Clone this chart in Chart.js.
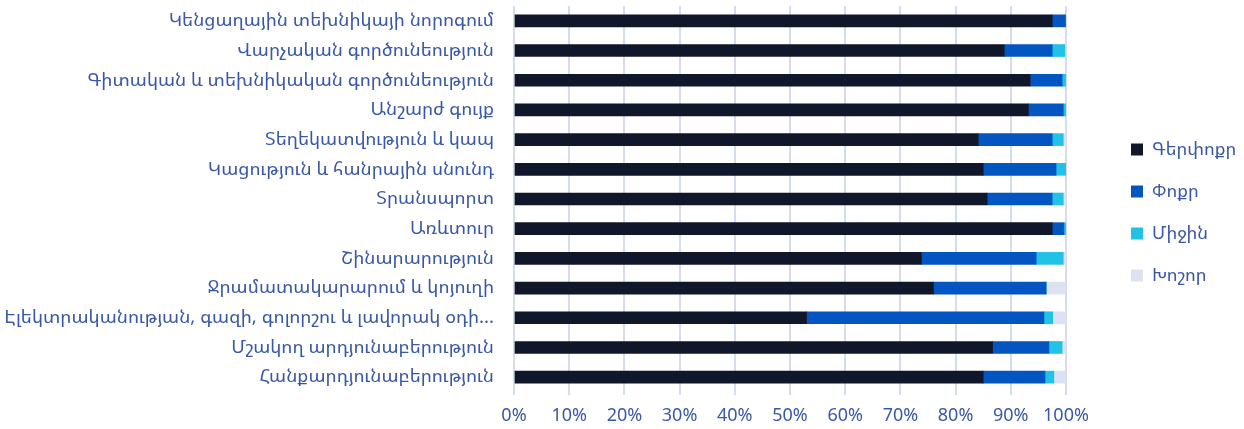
<!DOCTYPE html>
<html>
<head>
<meta charset="utf-8">
<script src="https://cdn.jsdelivr.net/npm/chart.js@4.4.1/dist/chart.umd.min.js"></script>
<style>
  html, body { margin: 0; padding: 0; background: #ffffff; }
  #wrap { width: 1244px; height: 429px; position: relative; }
</style>
</head>
<body>
<div id="wrap"><canvas id="c"></canvas></div>
<script>
const categories = [
  "Կենցաղային տեխնիկայի նորոգում",
  "Վարչական գործունեություն",
  "Գիտական և տեխնիկական գործունեություն",
  "Անշարժ գույք",
  "Տեղեկատվություն և կապ",
  "Կացություն և հանրային սնունդ",
  "Տրանսպորտ",
  "Առևտուր",
  "Շինարարություն",
  "Ջրամատակարարում և կոյուղի",
  "Էլեկտրականության, գազի, գոլորշու և լավորակ օդի...",
  "Մշակող արդյունաբերություն",
  "Հանքարդյունաբերություն"
];
const seriesNames = ["Գերփոքր", "Փոքր", "Միջին", "Խոշոր"];
const micro  = [97.5, 88.8, 93.5, 93.2, 84.1, 85.0, 85.7, 97.5, 73.8, 76.0, 53.0, 86.7, 85.0];
const small  = [2.4, 8.7, 5.8, 6.3, 13.4, 13.2, 11.8, 2.1, 20.8, 20.4, 43.0, 10.2, 11.2];
const medium = [0.1, 2.3, 0.7, 0.5, 2.0, 1.8, 2.0, 0.4, 4.9, 0.0, 1.6, 2.4, 1.6];
const large  = [0.0, 0.2, 0.0, 0.0, 0.5, 0.0, 0.5, 0.0, 0.5, 3.6, 2.4, 0.7, 2.2];
const xTicks = [0, 10, 20, 30, 40, 50, 60, 70, 80, 90, 100];

const colors = ["#10172a", "#0355c1", "#22c2e7", "#dce2f2"];
const textColor = "#3a58a5";
const fontFamily = "'Noto Sans Armenian', 'Noto Sans', 'DejaVu Sans', sans-serif";

const legendTweak = {
  id: 'legendTweak',
  beforeUpdate(chart) {
    const lg = chart.legend;
    if (lg && !lg._patched) {
      const f = lg.fit.bind(lg);
      lg.fit = function () { f(); this.width = 137; };
      const d = lg.draw.bind(lg);
      lg.draw = function () {
        const ctx = this.ctx;
        ctx.save();
        ctx.translate(0, -3);
        d();
        ctx.restore();
      };
      lg._patched = true;
    }
  }
};

new Chart(document.getElementById('c'), {
  type: 'bar',
  data: {
    labels: categories,
    datasets: [micro, small, medium, large].map((d, i) => ({
      label: seriesNames[i],
      data: d,
      backgroundColor: colors[i],
      borderWidth: 0,
      barThickness: 12
    }))
  },
  options: {
    indexAxis: 'y',
    responsive: true,
    maintainAspectRatio: false,
    animation: false,
    layout: { padding: { top: 6, bottom: 4, left: 0, right: 0 } },
    scales: {
      x: {
        stacked: true,
        min: 0, max: 100,
        afterBuildTicks(s) { s.ticks = xTicks.map(v => ({ value: v })); },
        afterFit(s) { s.height = 33; },
        ticks: {
          callback: v => v + '%',
          color: textColor,
          font: { family: fontFamily, size: 18 },
          padding: 10,
          maxRotation: 0
        },
        grid: { color: '#d5dcef', lineWidth: 2, tickLength: 3, drawTicks: true },
        border: { display: false }
      },
      y: {
        stacked: true,
        afterFit(s) { s.width = 514; s.paddingTop = 0; s.paddingBottom = 0; },
        ticks: {
          color: textColor,
          font: { family: fontFamily, size: 18.6 },
          padding: 20,
          autoSkip: false
        },
        grid: { display: false, drawTicks: false },
        border: { display: false }
      },
      y2: {
        position: 'right',
        type: 'category',
        afterFit(s) { s.width = 41; s.paddingTop = 0; s.paddingBottom = 0; },
        ticks: { display: false },
        grid: { display: false, drawTicks: false },
        border: { display: false }
      }
    },
    plugins: {
      legend: {
        position: 'right',
        labels: {
          color: textColor,
          font: { family: fontFamily, size: 18 },
          boxWidth: 12,
          boxHeight: 12,
          padding: 24
        }
      },
      tooltip: { enabled: false }
    }
  },
  plugins: [legendTweak]
});
</script>
</body>
</html>
